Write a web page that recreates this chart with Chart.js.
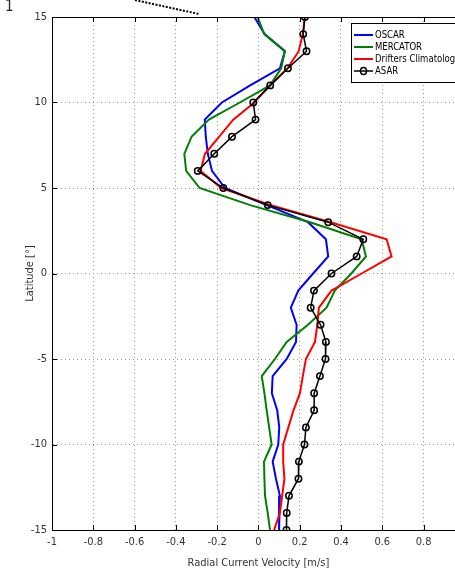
<!DOCTYPE html>
<html>
<head>
<meta charset="utf-8">
<title>Radial current velocity vs latitude</title>
<script src="https://cdn.jsdelivr.net/npm/chart.js@4"></script>
<style>
  html, body { margin: 0; padding: 0; background: #fff; overflow: hidden; }
  #wrap { width: 474px; height: 570px; }
</style>
</head>
<body>
<div id="wrap"><canvas id="velChart" width="474" height="570"></canvas></div>
<script>
// latitude of every sample, north to south
const latitudes = [15, 14, 13, 12, 11, 10, 9, 8, 7, 6, 5, 4, 3, 2, 1, 0,
    -1, -2, -3, -4, -5, -6, -7, -8, -9, -10, -11, -12, -13, -14, -15];

const oscar = [-0.02, 0.03, 0.128, 0.104, -0.04, -0.177, -0.26, -0.255, -0.245, -0.225, -0.162,
    0.04, 0.24, 0.327, 0.338, 0.265, 0.193, 0.157, 0.185, 0.182, 0.137, 0.069, 0.065, 0.091,
    0.101, 0.096, 0.069, 0.085, 0.104, 0.1, 0.1];
const mercator = [-0.004, 0.028, 0.128, 0.11, 0.056, -0.09, -0.24, -0.324, -0.359, -0.35, -0.285,
    -0.04, 0.25, 0.5, 0.521, 0.45, 0.37, 0.33, 0.24, 0.137, 0.08, 0.016, 0.029, 0.04,
    0.052, 0.064, 0.027, 0.029, 0.032, 0.045, 0.056];
const drifters = [0.225, 0.215, 0.195, 0.141, 0.057, -0.02, -0.122, -0.19, -0.259, -0.28, -0.18,
    0.06, 0.35, 0.621, 0.645, 0.5, 0.354, 0.293, 0.285, 0.274, 0.23, 0.215, 0.201, 0.17,
    0.145, 0.12, 0.12, 0.126, 0.115, 0.104, 0.076];
const asar = [0.225, 0.217, 0.233, 0.143, 0.057, -0.025, -0.014, -0.128, -0.214, -0.294, -0.17,
    0.045, 0.338, 0.508, 0.476, 0.354, 0.269, 0.253, 0.301, 0.327, 0.325, 0.298, 0.27, 0.27,
    0.23, 0.223, 0.196, 0.194, 0.148, 0.137, 0.136];

const seriesNames = ['OSCAR', 'MERCATOR', 'Drifters Climatology', 'ASAR'];
const xTicks = [-1, -0.8, -0.6, -0.4, -0.2, 0, 0.2, 0.4, 0.6, 0.8, 1];
const yTicks = [-15, -10, -5, 0, 5, 10, 15];

const FONT = "'Liberation Sans Narrow', 'DejaVu Sans Condensed', 'Liberation Sans', Arial, sans-serif";

function toPoints(values) {
    return values.map((v, i) => ({ x: v, y: latitudes[i] }));
}

// MATLAB-like frame: solid top line, inward ticks, legend box inside the axes
const framePlugin = {
    id: 'frame',
    afterDraw(chart) {
        const c = chart.ctx;
        const a = chart.chartArea;
        const xs = chart.scales.x, ys = chart.scales.y;
        c.save();
        c.strokeStyle = '#000';
        c.lineWidth = 1;
        c.beginPath();
        c.moveTo(a.left, a.top + 0.5);
        c.lineTo(a.right, a.top + 0.5);
        xTicks.forEach(t => {
            const px = Math.round(xs.getPixelForValue(t)) + 0.5;
            c.moveTo(px, a.bottom); c.lineTo(px, a.bottom - 5);
            c.moveTo(px, a.top); c.lineTo(px, a.top + 5);
        });
        yTicks.forEach(t => {
            const py = Math.round(ys.getPixelForValue(t)) + 0.5;
            c.moveTo(a.left, py); c.lineTo(a.left + 5, py);
        });
        c.stroke();

        // legend
        const lx = 351, ly = 23, lw = 130, lh = 59;
        c.fillStyle = '#fff';
        c.fillRect(lx, ly, lw, lh);
        c.strokeRect(lx + 0.5, ly + 0.5, lw, lh);
        c.font = '11px ' + FONT;
        c.textBaseline = 'middle';
        const sets = chart.data.datasets;
        seriesNames.forEach((name, i) => {
            const ds = sets.find(d => d.label === name);
            const y = ly + 12 + i * 12;
            c.strokeStyle = ds.borderColor;
            c.lineWidth = ds.borderWidth;
            c.beginPath();
            c.moveTo(lx + 3, y); c.lineTo(lx + 22, y);
            c.stroke();
            if (ds.pointRadius > 0) {
                c.beginPath();
                c.ellipse(lx + 12.5, y, 3, 3.5, 0, 0, Math.PI * 2);
                c.stroke();
            }
            c.fillStyle = '#000';
            c.save();
            c.translate(lx + 24, y);
            c.scale(0.86, 1);
            c.fillText(name, 0, 0);
            c.restore();
        });

        // leftovers of the panel above
        c.fillStyle = '#222';
        c.font = '15px ' + FONT;
        c.textBaseline = 'top';
        c.fillText('1', 5, 0);
        c.strokeStyle = '#000';
        c.lineWidth = 2;
        c.setLineDash([2, 1.5]);
        c.beginPath();
        c.moveTo(135, 0); c.lineTo(199, 14);
        c.stroke();
        c.restore();
    }
};

new Chart(document.getElementById('velChart'), {
    type: 'scatter',
    data: {
        datasets: [
            { label: 'ASAR', data: toPoints(asar), borderColor: '#000', borderWidth: 1.5,
              pointRadius: 3.2, pointBorderWidth: 1.5, pointBackgroundColor: 'rgba(0,0,0,0)',
              pointBorderColor: '#000', order: 0 },
            { label: 'Drifters Climatology', data: toPoints(drifters), borderColor: '#ff0000',
              borderWidth: 2, pointRadius: 0, order: 1 },
            { label: 'MERCATOR', data: toPoints(mercator), borderColor: '#008000',
              borderWidth: 2, pointRadius: 0, order: 2 },
            { label: 'OSCAR', data: toPoints(oscar), borderColor: '#0000ff',
              borderWidth: 2, pointRadius: 0, order: 3 }
        ].map(d => Object.assign({ showLine: true, fill: false, tension: 0 }, d))
    },
    options: {
        responsive: false,
        animation: false,
        layout: { padding: { top: 17, right: 4, left: 0, bottom: 0 } },
        plugins: { legend: { display: false }, tooltip: { enabled: false } },
        scales: {
            x: {
                type: 'linear', min: -1, max: 1,
                afterFit: s => { s.height = 40; },
                afterBuildTicks: s => { s.ticks = xTicks.map(v => ({ value: v })); },
                ticks: {
                    padding: 6, color: '#333', maxRotation: 0,
                    font: { family: FONT, size: 11 },
                    callback: v => String(Math.round(v * 10) / 10)
                },
                grid: { color: '#9a9a9a', lineWidth: 1, drawTicks: false },
                border: { color: '#000', width: 1, dash: [1, 3] },
                title: { display: true, text: 'Radial Current Velocity [m/s]', color: '#333',
                         font: { family: FONT, size: 11 }, padding: { top: 2, bottom: 0 } }
            },
            y: {
                type: 'linear', min: -15, max: 15,
                afterFit: s => { s.width = 52; },
                afterBuildTicks: s => { s.ticks = yTicks.map(v => ({ value: v })); },
                ticks: { padding: 5, color: '#333', font: { family: FONT, size: 11 } },
                grid: { color: '#9a9a9a', lineWidth: 1, drawTicks: false },
                border: { color: '#000', width: 1, dash: [1, 3] },
                title: { display: true, text: 'Latitude [°]', color: '#333',
                         font: { family: FONT, size: 11 }, padding: { top: 24, bottom: 0 } }
            }
        }
    },
    plugins: [framePlugin]
});
</script>
</body>
</html>
